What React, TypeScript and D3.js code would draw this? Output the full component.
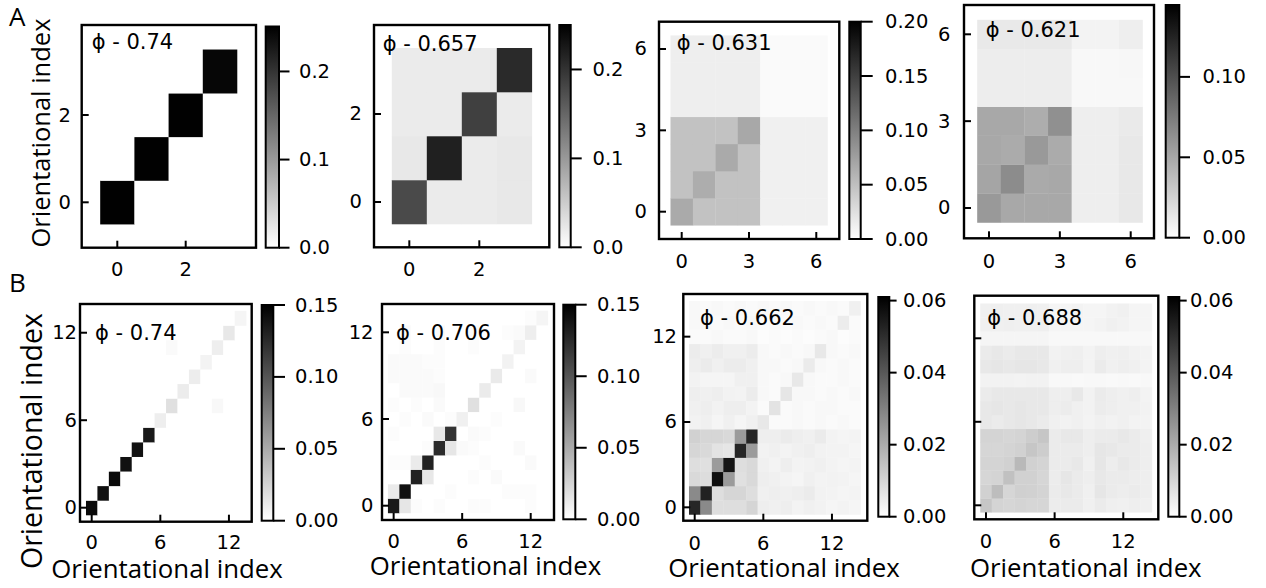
import React from "react";
import * as d3 from "d3";

// ---------- DATA (row 0 = bottom row, col 0 = left column) ----------
const A1_matrix = [
  [0.25, 0, 0, 0],
  [0, 0.25, 0, 0],
  [0, 0, 0.25, 0],
  [0, 0, 0, 0.245],
];
const A2_matrix = [
  [0.177, 0.0196, 0.0196, 0.0225],
  [0.0225, 0.219, 0.0196, 0.0225],
  [0.0196, 0.0196, 0.187, 0.0196],
  [0.0196, 0.0196, 0.0196, 0.209],
];
const A3_matrix = [
  [0.067, 0.048, 0.048, 0.048, 0.012, 0.012, 0.012],
  [0.048, 0.064, 0.048, 0.048, 0.012, 0.012, 0.012],
  [0.048, 0.048, 0.067, 0.048, 0.012, 0.012, 0.012],
  [0.048, 0.048, 0.048, 0.068, 0.012, 0.012, 0.012],
  [0.013, 0.013, 0.013, 0.013, 0.004, 0.004, 0.004],
  [0.013, 0.013, 0.013, 0.013, 0.004, 0.004, 0.004],
  [0.013, 0.013, 0.013, 0.013, 0.004, 0.004, 0.004],
];
const A4_matrix = [
  [0.058, 0.0495, 0.0495, 0.0495, 0.0097, 0.0097, 0.013],
  [0.051, 0.065, 0.048, 0.0495, 0.0097, 0.0097, 0.013],
  [0.0495, 0.0478, 0.058, 0.0478, 0.0097, 0.0097, 0.013],
  [0.0495, 0.0495, 0.0466, 0.063, 0.0097, 0.0097, 0.012],
  [0.0102, 0.0102, 0.0102, 0.0102, 0.004, 0.004, 0.004],
  [0.0102, 0.0102, 0.0102, 0.0102, 0.004, 0.004, 0.0045],
  [0.0125, 0.0125, 0.0125, 0.0125, 0.0068, 0.0068, 0.0097],
];
const B1_matrix = [
  [0.144, 0, 0, 0, 0, 0, 0, 0, 0, 0, 0, 0, 0, 0],
  [0, 0.14, 0, 0, 0, 0, 0, 0, 0, 0, 0, 0, 0, 0],
  [0, 0, 0.144, 0, 0, 0, 0, 0, 0, 0, 0, 0, 0, 0],
  [0, 0, 0, 0.14, 0, 0, 0, 0, 0, 0, 0, 0, 0, 0],
  [0, 0, 0, 0, 0.14, 0, 0, 0, 0, 0, 0, 0, 0, 0],
  [0, 0, 0, 0, 0, 0.135, 0, 0, 0, 0, 0, 0, 0, 0],
  [0, 0, 0, 0, 0, 0, 0.01, 0, 0, 0, 0, 0, 0, 0],
  [0, 0, 0, 0, 0, 0, 0, 0.0182, 0, 0, 0, 0.004, 0, 0],
  [0, 0, 0, 0, 0, 0, 0, 0, 0.0112, 0, 0, 0, 0, 0],
  [0, 0, 0, 0, 0, 0, 0, 0, 0, 0.0106, 0, 0, 0, 0],
  [0, 0, 0, 0, 0, 0, 0, 0, 0, 0, 0.0071, 0, 0, 0],
  [0, 0, 0, 0, 0, 0, 0, 0.003, 0, 0, 0, 0.01, 0, 0],
  [0, 0, 0, 0, 0, 0, 0, 0, 0, 0, 0, 0, 0.0135, 0],
  [0, 0, 0, 0, 0, 0, 0, 0, 0, 0, 0, 0, 0, 0.0059],
];
const B2_matrix = [
  [0.135, 0.0147, 0.002, 0, 0.002, 0, 0, 0.002, 0.002, 0, 0, 0, 0.002, 0],
  [0.0124, 0.14, 0, 0, 0, 0.002, 0, 0, 0, 0, 0.002, 0.002, 0.002, 0],
  [0, 0, 0.13, 0.0135, 0, 0, 0, 0.002, 0, 0.003, 0, 0, 0, 0],
  [0.002, 0.002, 0.0118, 0.13, 0, 0, 0, 0, 0.002, 0, 0, 0, 0.003, 0],
  [0, 0, 0, 0.002, 0.125, 0.0147, 0.003, 0.002, 0, 0, 0, 0.003, 0, 0],
  [0.002, 0, 0, 0, 0.0135, 0.12, 0, 0.003, 0.002, 0, 0, 0, 0, 0],
  [0, 0.002, 0, 0.003, 0, 0.002, 0.0088, 0, 0, 0.002, 0, 0, 0, 0],
  [0.002, 0, 0.002, 0, 0.003, 0, 0, 0.0182, 0, 0, 0, 0.004, 0, 0],
  [0, 0.003, 0.003, 0.003, 0.004, 0, 0, 0, 0.0118, 0, 0, 0, 0, 0],
  [0.003, 0.003, 0.003, 0.003, 0.002, 0, 0, 0, 0, 0.0124, 0, 0, 0.003, 0],
  [0.003, 0.003, 0.003, 0.002, 0.002, 0, 0, 0, 0, 0, 0.0076, 0, 0, 0],
  [0, 0.002, 0, 0, 0.002, 0, 0, 0.002, 0, 0, 0, 0.007, 0, 0],
  [0, 0.003, 0, 0, 0.003, 0, 0, 0.003, 0, 0, 0.002, 0.003, 0.01, 0],
  [0, 0, 0, 0, 0, 0, 0, 0, 0, 0, 0, 0, 0.002, 0.0059],
];
const B3_matrix = [
  [0.052, 0.028, 0.008, 0.008, 0.008, 0.010, 0.004, 0.0035, 0.004, 0.0028, 0.0035, 0.003, 0.0024, 0.0028, 0.0024],
  [0.028, 0.053, 0.008, 0.0099, 0.0099, 0.008, 0.0035, 0.004, 0.0035, 0.004, 0.0047, 0.003, 0.0028, 0.0024, 0.0028],
  [0.0092, 0.0082, 0.0576, 0.024, 0.0073, 0.0092, 0.004, 0.0035, 0.0028, 0.0024, 0.0035, 0.0028, 0.003, 0.0028, 0.0024],
  [0.008, 0.0073, 0.024, 0.056, 0.008, 0.0092, 0.0035, 0.0028, 0.004, 0.0028, 0.003, 0.0035, 0.0028, 0.0024, 0.0028],
  [0.0099, 0.0092, 0.0068, 0.0061, 0.052, 0.024, 0.003, 0.0035, 0.0028, 0.0035, 0.004, 0.003, 0.0028, 0.0028, 0.0024],
  [0.011, 0.0099, 0.0099, 0.0092, 0.024, 0.052, 0.004, 0.004, 0.0047, 0.004, 0.0035, 0.0047, 0.0028, 0.0024, 0.0028],
  [0.003, 0.0035, 0.0024, 0.0035, 0.0024, 0.0035, 0.0054, 0.0012, 0.0012, 0.0016, 0.0012, 0.0016, 0.0012, 0.0016, 0.0012],
  [0.0035, 0.004, 0.003, 0.004, 0.004, 0.0028, 0.0012, 0.0068, 0.0012, 0.0016, 0.0012, 0.0016, 0.0016, 0.0012, 0.0012],
  [0.004, 0.0035, 0.004, 0.003, 0.0028, 0.0045, 0.0016, 0.0012, 0.0061, 0.0016, 0.0016, 0.0012, 0.0016, 0.0012, 0.0016],
  [0.003, 0.0024, 0.0024, 0.0024, 0.0035, 0.0035, 0.0016, 0.0012, 0.0016, 0.0054, 0.0016, 0.0012, 0.0012, 0.0016, 0.0012],
  [0.004, 0.0047, 0.0035, 0.0045, 0.0045, 0.0035, 0.0016, 0.0016, 0.0012, 0.0016, 0.0047, 0.0016, 0.0012, 0.0016, 0.0012],
  [0.0045, 0.0035, 0.0045, 0.0035, 0.0035, 0.0045, 0.0016, 0.0012, 0.0016, 0.0012, 0.0016, 0.0054, 0.0016, 0.0012, 0.0016],
  [0.0012, 0.0012, 0.0016, 0.0012, 0.0012, 0.0016, 0.0008, 0.0012, 0.0008, 0.0012, 0.0008, 0.0012, 0.0016, 0.0008, 0.0012],
  [0.0016, 0.0016, 0.0012, 0.0016, 0.0012, 0.0016, 0.0012, 0.0016, 0.0012, 0.0016, 0.0012, 0.0016, 0.0012, 0.0045, 0.0012],
  [0.0016, 0.0012, 0.0016, 0.0012, 0.0016, 0.0012, 0.0016, 0.0012, 0.0016, 0.0012, 0.0016, 0.0012, 0.0016, 0.0012, 0.0035],
];
const B4_matrix = [
  [0.0136, 0.0104, 0.0099, 0.0104, 0.0099, 0.0099, 0.0045, 0.0049, 0.0047, 0.0035, 0.0049, 0.0038, 0.0035, 0.004, 0.0035],
  [0.011, 0.0158, 0.0099, 0.0113, 0.011, 0.0104, 0.0049, 0.0054, 0.0047, 0.0035, 0.0061, 0.0049, 0.0042, 0.0049, 0.004],
  [0.0099, 0.0104, 0.0148, 0.011, 0.011, 0.0099, 0.0045, 0.0061, 0.0047, 0.004, 0.0054, 0.0047, 0.0047, 0.0042, 0.004],
  [0.0104, 0.0104, 0.011, 0.0167, 0.011, 0.0104, 0.0047, 0.0049, 0.0054, 0.0035, 0.0061, 0.0042, 0.0054, 0.0047, 0.004],
  [0.0099, 0.0099, 0.0104, 0.011, 0.0136, 0.012, 0.0049, 0.0049, 0.0047, 0.004, 0.0061, 0.0054, 0.0049, 0.0047, 0.004],
  [0.0104, 0.0104, 0.0099, 0.0104, 0.012, 0.0136, 0.0047, 0.0054, 0.0054, 0.004, 0.0049, 0.0049, 0.0054, 0.0047, 0.0038],
  [0.0054, 0.0049, 0.0054, 0.0061, 0.0054, 0.0049, 0.0035, 0.0031, 0.0035, 0.0028, 0.0035, 0.0031, 0.0035, 0.0028, 0.0028],
  [0.0054, 0.0061, 0.0054, 0.0061, 0.0054, 0.0054, 0.004, 0.0045, 0.0035, 0.0031, 0.0045, 0.004, 0.0035, 0.0035, 0.0031],
  [0.0049, 0.0054, 0.0054, 0.0054, 0.0054, 0.0054, 0.004, 0.004, 0.0054, 0.0031, 0.0047, 0.004, 0.0035, 0.004, 0.0028],
  [0.0031, 0.003, 0.0031, 0.0028, 0.0031, 0.003, 0.0016, 0.0016, 0.0014, 0.0016, 0.0016, 0.0014, 0.0016, 0.0014, 0.0016],
  [0.0054, 0.0061, 0.0054, 0.0061, 0.0061, 0.0054, 0.0035, 0.004, 0.004, 0.0028, 0.0047, 0.0035, 0.004, 0.0035, 0.0028],
  [0.0047, 0.0054, 0.0049, 0.0054, 0.0054, 0.0054, 0.0031, 0.0035, 0.0038, 0.0028, 0.004, 0.0035, 0.0038, 0.0031, 0.0028],
  [0.0024, 0.0024, 0.0024, 0.0024, 0.0024, 0.0024, 0.0016, 0.0016, 0.0016, 0.0016, 0.0016, 0.0016, 0.0016, 0.0016, 0.0016],
  [0.0035, 0.0035, 0.0038, 0.0035, 0.0035, 0.0038, 0.0024, 0.0024, 0.0024, 0.0024, 0.0028, 0.0035, 0.0031, 0.0024, 0.0024],
  [0.0035, 0.0038, 0.0035, 0.0035, 0.0038, 0.0035, 0.0024, 0.0024, 0.0028, 0.0024, 0.0024, 0.0031, 0.0035, 0.0024, 0.0024],
];

const phiLabels = ["ϕ - 0.74", "ϕ - 0.657", "ϕ - 0.631", "ϕ - 0.621", "ϕ - 0.74", "ϕ - 0.706", "ϕ - 0.662", "ϕ - 0.688"];
const axisTicksA12 = [0, 2];
const axisTicksA34 = [0, 3, 6];
const axisTicksB = [0, 6, 12];
const cbTicksA12 = [0, 0.1, 0.2];
const cbTicksA3 = [0, 0.05, 0.1, 0.15, 0.2];
const cbTicksA4 = [0, 0.05, 0.1];
const cbTicksB12 = [0, 0.05, 0.1, 0.15];
const cbTicksB34 = [0, 0.02, 0.04, 0.06];
const vmaxes = [0.251, 0.25, 0.2, 0.1447, 0.15, 0.15, 0.061, 0.061];
const axisTitle = "Orientational index";

// ---------- LAYOUT ----------
type Panel = {
  data: number[][];
  vmax: number;
  ticks: number[];
  cbTicks: number[];
  cbDigits: number;
  phi: string;
  frame: [number, number, number, number]; // x0,x1,y0,y1
  xDom: [number, number];
  yDom: [number, number];
  cb: [number, number, number, number];
  cbTickLen: number;
  cbLabelX: number;
  phiPos: [number, number];
  xLabelBase: number;
  yLabelRight: number | null;
};

const panels: Panel[] = [
  { data: A1_matrix, vmax: vmaxes[0], ticks: axisTicksA12, cbTicks: cbTicksA12, cbDigits: 1, phi: phiLabels[0],
    frame: [81.7, 256, 25, 247.7], xDom: [-1.041, 4.056], yDom: [-1.04, 4.062],
    cb: [265.7, 279, 26.5, 247.7], cbTickLen: 10.5, cbLabelX: 299, phiPos: [91.7, 48.5], xLabelBase: 276, yLabelRight: 71 },
  { data: A2_matrix, vmax: vmaxes[1], ticks: axisTicksA12, cbTicks: cbTicksA12, cbDigits: 1, phi: phiLabels[1],
    frame: [374, 549.3, 25, 247.3], xDom: [-1.009, 4.0], yDom: [-1.03, 4.023],
    cb: [559.3, 570.7, 25, 247.3], cbTickLen: 11, cbLabelX: 592.5, phiPos: [382.7, 50.7], xLabelBase: 276, yLabelRight: 362 },
  { data: A3_matrix, vmax: vmaxes[2], ticks: axisTicksA34, cbTicks: cbTicksA3, cbDigits: 2, phi: phiLabels[2],
    frame: [659, 839.3, 21.7, 239], xDom: [-1.012, 7.026], yDom: [-1.007, 7.006],
    cb: [849.3, 860.7, 21.7, 239], cbTickLen: 12, cbLabelX: 885, phiPos: [676.7, 50], xLabelBase: 267.5, yLabelRight: 647 },
  { data: A4_matrix, vmax: vmaxes[3], ticks: axisTicksA34, cbTicks: cbTicksA4, cbDigits: 2, phi: phiLabels[3],
    frame: [964, 1154, 5, 238.3], xDom: [-1.058, 6.986], yDom: [-1.047, 7.012],
    cb: [1165.7, 1179.3, 5, 237.7], cbTickLen: 10.7, cbLabelX: 1202.5, phiPos: [985.7, 36.7], xLabelBase: 267.5, yLabelRight: 950.5 },
  { data: B1_matrix, vmax: vmaxes[4], ticks: axisTicksB, cbTicks: cbTicksB12, cbDigits: 2, phi: phiLabels[4],
    frame: [80, 251.7, 304, 521.7], xDom: [-1.023, 13.99], yDom: [-0.96, 13.97],
    cb: [261.7, 273.3, 305, 520.7], cbTickLen: 11.7, cbLabelX: 295, phiPos: [95, 340], xLabelBase: 549, yLabelRight: 77 },
  { data: B2_matrix, vmax: vmaxes[5], ticks: axisTicksB, cbTicks: cbTicksB12, cbDigits: 2, phi: phiLabels[5],
    frame: [382, 554, 304, 520], xDom: [-1.02, 14.04], yDom: [-0.99, 13.96],
    cb: [563.3, 575.3, 304.7, 519.3], cbTickLen: 11.4, cbLabelX: 597, phiPos: [396, 340], xLabelBase: 547.5, yLabelRight: 373.5 },
  { data: B3_matrix, vmax: vmaxes[6], ticks: axisTicksB, cbTicks: cbTicksB34, cbDigits: 2, phi: phiLabels[6],
    frame: [683.3, 867.3, 294, 520.7], xDom: [-0.997, 15.09], yDom: [-0.94, 15.0],
    cb: [878.3, 889.3, 297, 516.7], cbTickLen: 7.3, cbLabelX: 903, phiPos: [700, 325], xLabelBase: 550, yLabelRight: 677 },
  { data: B4_matrix, vmax: vmaxes[7], ticks: axisTicksB, cbTicks: cbTicksB34, cbDigits: 2, phi: phiLabels[7],
    frame: [974.3, 1158.3, 295.7, 519.3], xDom: [-1.02, 15.06], yDom: [-1.006, 15.06],
    cb: [1168.3, 1179.3, 297, 516.7], cbTickLen: 7.4, cbLabelX: 1190, phiPos: [987.3, 325], xLabelBase: 547.5, yLabelRight: null },
];

const xTitles: [number, number][] = [[167, 578], [485.5, 575], [784, 576.5], [1085.8, 577]];

const TICK_FONT = "'DejaVu Sans', sans-serif";
const TITLE_FONT = "'Open Sans', sans-serif";
const TICK_SIZE = 19.5;

function HeatPanel({ p, idx }: { p: Panel; idx: number }) {
  const [fx0, fx1, fy0, fy1] = p.frame;
  const x = d3.scaleLinear().domain(p.xDom).range([fx0, fx1]);
  const y = d3.scaleLinear().domain(p.yDom).range([fy1, fy0]);
  const color = (v: number) => d3.interpolateRgb("#ffffff", "#000000")(Math.max(0, Math.min(1, v / p.vmax)));
  const [cx0, cx1, cy0, cy1] = p.cb;
  const cbScale = d3.scaleLinear().domain([0, p.vmax]).range([cy1, cy0]);
  const gid = `grad${idx}`;
  const fmt = d3.format(`.${p.cbDigits}f`);
  const tickLen = 7;
  const cells: React.ReactNode[] = [];
  p.data.forEach((row, i) =>
    row.forEach((v, j) => {
      const xa = x(j - 0.5), xb = x(j + 0.5);
      const ya = y(i + 0.5), yb = y(i - 0.5);
      cells.push(
        <rect key={`${i}-${j}`} x={xa} y={ya} width={xb - xa + 0.3} height={yb - ya + 0.3} fill={color(v)} />
      );
    })
  );
  return (
    <g>
      <defs>
        <linearGradient id={gid} x1="0" y1="1" x2="0" y2="0">
          <stop offset="0%" stopColor="#ffffff" />
          <stop offset="100%" stopColor="#000000" />
        </linearGradient>
      </defs>
      <g>{cells}</g>
      {p.ticks.map((t) => (
        <line key={`xt${t}`} x1={x(t)} x2={x(t)} y1={fy1} y2={fy1 - tickLen} stroke="#000" strokeWidth={2} />
      ))}
      {p.ticks.map((t) => (
        <line key={`yt${t}`} x1={fx0} x2={fx0 + tickLen} y1={y(t)} y2={y(t)} stroke="#000" strokeWidth={2} />
      ))}
      <rect x={fx0} y={fy0} width={fx1 - fx0} height={fy1 - fy0} fill="none" stroke="#000" strokeWidth={2.4} />
      {p.ticks.map((t) => (
        <text key={`xl${t}`} x={x(t)} y={p.xLabelBase} textAnchor="middle" fontFamily={TICK_FONT} fontSize={TICK_SIZE} fill="#000">
          {t}
        </text>
      ))}
      {p.yLabelRight !== null &&
        p.ticks.map((t) => (
          <text key={`yl${t}`} x={p.yLabelRight as number} y={y(t)} textAnchor="end" dominantBaseline="central"
            fontFamily={TICK_FONT} fontSize={TICK_SIZE} fill="#000">
            {t}
          </text>
        ))}
      <text x={p.phiPos[0]} y={p.phiPos[1]} fontFamily={TICK_FONT} fontSize={21} fill="#000">
        {p.phi}
      </text>
      <rect x={cx0} y={cy0} width={cx1 - cx0} height={cy1 - cy0} fill={`url(#${gid})`} />
      {p.cbTicks.map((t) => (
        <line key={`ct${t}`} x1={cx1} x2={cx1 + p.cbTickLen} y1={cbScale(t)} y2={cbScale(t)} stroke="#000" strokeWidth={2} />
      ))}
      <rect x={cx0} y={cy0} width={cx1 - cx0} height={cy1 - cy0} fill="none" stroke="#000" strokeWidth={2} />
      {p.cbTicks.map((t) => (
        <text key={`cl${t}`} x={p.cbLabelX} y={cbScale(t)} dominantBaseline="central" fontFamily={TICK_FONT}
          fontSize={TICK_SIZE} fill="#000">
          {fmt(t)}
        </text>
      ))}
    </g>
  );
}

export default function App() {
  return (
    <div style={{ position: "absolute", left: 0, top: 0, background: "#fff" }}>
      <svg width={1266} height={588} viewBox="0 0 1266 588" style={{ display: "block", background: "#fff" }}>
        {panels.map((p, i) => (
          <HeatPanel key={i} p={p} idx={i} />
        ))}
        <text x={9} y={26} fontFamily={TITLE_FONT} fontSize={26} fill="#000">A</text>
        <text x={9} y={292} fontFamily={TITLE_FONT} fontSize={26} fill="#000">B</text>
        <text transform="translate(50,133) rotate(-90)" textAnchor="middle" fontFamily={TITLE_FONT} fontSize={25.5} fill="#000">
          {axisTitle}
        </text>
        <text transform="translate(42,441) rotate(-90)" textAnchor="middle" fontFamily={TITLE_FONT} fontSize={28.5} fill="#000">
          {axisTitle}
        </text>
        {xTitles.map(([cx, by], i) => (
          <text key={i} x={cx} y={by} textAnchor="middle" fontFamily={TITLE_FONT} fontSize={25.8} fill="#000">
            {axisTitle}
          </text>
        ))}
      </svg>
    </div>
  );
}
